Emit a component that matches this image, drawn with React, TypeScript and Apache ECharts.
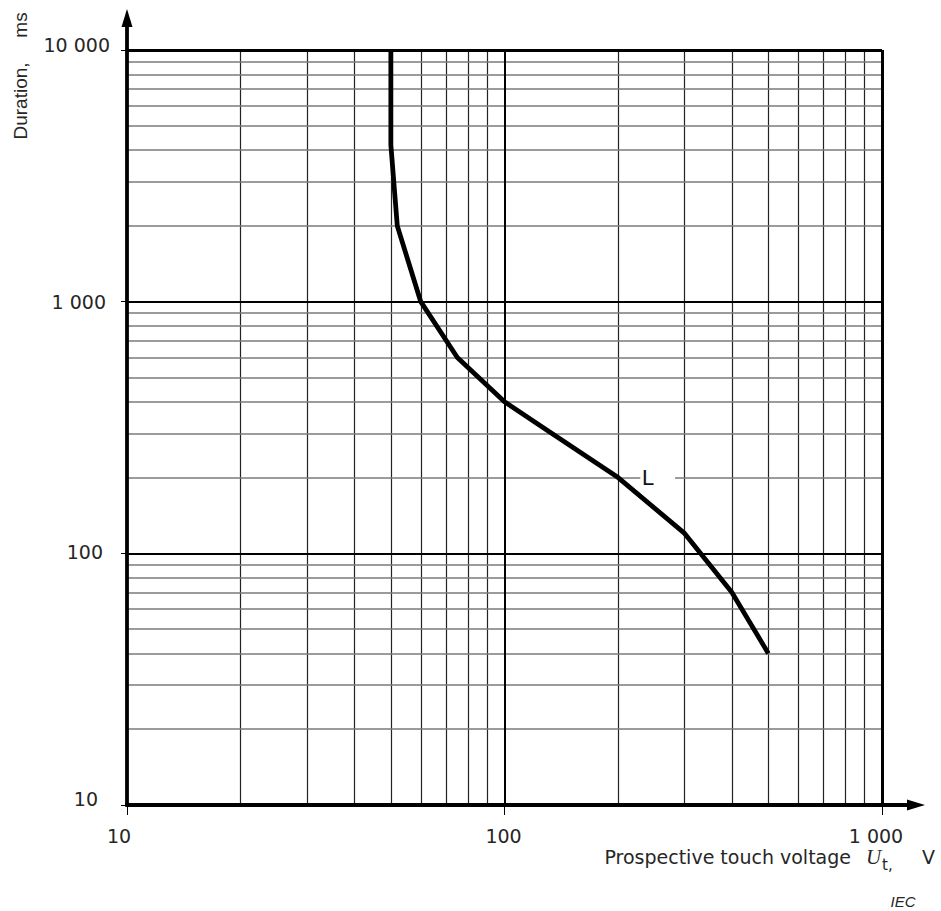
import React, { useEffect, useRef } from "react";
import * as echarts from "echarts";

// Axis ticks (log axes)
const xMin = 10;
const xMax = 1000;
const yMin = 10;
const yMax = 10000;
const xDecadeLines = [100];
const yDecadeLines = [100, 1000];
const xMinor = [20, 30, 40, 50, 60, 70, 80, 90, 200, 300, 400, 500, 600, 700, 800, 900];
const yMinor = [
  20, 30, 40, 50, 60, 70, 80, 90,
  200, 300, 400, 500, 600, 700, 800, 900,
  2000, 3000, 4000, 5000, 6000, 7000, 8000, 9000,
];

// Curve L: prospective touch voltage (V) vs duration (ms)
const voltage = [50, 50, 52, 60, 75, 100, 125, 200, 300, 400, 500];
const duration = [10000, 4200, 2000, 1000, 600, 400, 320, 200, 120, 70, 40];
const curveName = "L";
const labelAt = [240, 200];
const labelGap = [229, 283];

const fmt = (v: number) => String(v).replace(/\B(?=(\d{3})+(?!\d))/g, " ");

const FONT_NUM = "DejaVu Sans";
const FONT = "Liberation Sans";
const TXT = "#262626";

export default function App() {
  const ref = useRef<HTMLDivElement>(null);

  useEffect(() => {
    if (!ref.current) return;
    const chart = echarts.init(ref.current, undefined, { renderer: "svg" });

    const L = 127, T = 50, W = 755, H = 755;
    const B = T + H;

    const minorV = { color: "#222", width: 1.2, type: "solid" as const };
    const minorH = { color: "#7a7a7a", width: 1.6, type: "solid" as const };
    const major = { color: "#000", width: 2, type: "solid" as const };
    const border = { color: "#000", width: 3, type: "solid" as const };

    const gridLines: any[] = [];
    xMinor.forEach((v) => gridLines.push({ xAxis: v, lineStyle: minorV }));
    yMinor.forEach((v) => {
      if (v === labelAt[1]) {
        gridLines.push([
          { coord: [xMin, v], lineStyle: minorH },
          { coord: [labelGap[0], v], lineStyle: minorH },
        ]);
        gridLines.push([
          { coord: [labelGap[1], v], lineStyle: minorH },
          { coord: [xMax, v], lineStyle: minorH },
        ]);
      } else {
        gridLines.push({ yAxis: v, lineStyle: minorH });
      }
    });
    xDecadeLines.forEach((v) => gridLines.push({ xAxis: v, lineStyle: major }));
    yDecadeLines.forEach((v) => gridLines.push({ yAxis: v, lineStyle: major }));
    gridLines.push({ yAxis: yMax, lineStyle: border });
    gridLines.push({ xAxis: xMax, lineStyle: border });

    const numStyle = { fontSize: 19, fontFamily: FONT_NUM, color: TXT };

    const option: any = {
      animation: false,
      backgroundColor: "#fff",
      grid: { left: L, top: T, width: W, height: H, containLabel: false },
      xAxis: {
        type: "log",
        logBase: 10,
        min: xMin,
        max: xMax,
        axisLine: { show: false },
        axisTick: { show: true, length: 10, lineStyle: { color: "#000", width: 1 } },
        splitLine: { show: false },
        axisLabel: {
          margin: 21,
          ...numStyle,
          formatter: (v: number) =>
            v === xMin ? `{a|${fmt(v)}}` : v === xMax ? `{b|${fmt(v)}}` : `{c|${fmt(v)}}`,
          rich: {
            a: { ...numStyle, padding: [0, 16, 0, 0] },
            b: { ...numStyle, padding: [0, 12, 0, 0] },
            c: { ...numStyle, padding: [0, 2, 0, 0] },
          },
        },
      },
      yAxis: {
        type: "log",
        logBase: 10,
        min: yMin,
        max: yMax,
        axisLine: { show: false },
        axisTick: { show: true, length: 6, lineStyle: { color: "#000", width: 1 } },
        splitLine: { show: false },
        axisLabel: {
          margin: 17,
          ...numStyle,
          formatter: (v: number) =>
            v === yMax ? `{p|${fmt(v)}}` : v === 1000 ? `{q|${fmt(v)}}` : v === 100 ? `{r|${fmt(v)}}` : `{s|${fmt(v)}}`,
          rich: {
            p: { ...numStyle, padding: [0, 0, 10, 0] },
            q: { ...numStyle, padding: [0, 4, 0, 0] },
            r: { ...numStyle, padding: [0, 7, 3, 0] },
            s: { ...numStyle, padding: [0, 12, 12, 0] },
          },
        },
      },
      series: [
        {
          name: "grid",
          type: "line",
          data: [[xMin, yMin]],
          symbol: "none",
          lineStyle: { opacity: 0 },
          silent: true,
          z: 1,
          markLine: {
            silent: true,
            symbol: ["none", "none"],
            label: { show: false },
            animation: false,
            data: gridLines,
          },
        },
        {
          name: curveName,
          type: "line",
          data: voltage.map((u, i) => [u, duration[i]]),
          symbol: "none",
          showSymbol: false,
          lineStyle: { color: "#000", width: 4.8, join: "round" },
          z: 5,
          markPoint: {
            silent: true,
            animation: false,
            data: [
              {
                coord: labelAt,
                symbol: "circle",
                symbolSize: 1,
                itemStyle: { color: "rgba(0,0,0,0)" },
                label: {
                  show: true,
                  formatter: curveName,
                  position: "inside",
                  fontSize: 22,
                  fontFamily: FONT,
                  color: "#111",
                },
              },
            ],
          },
        },
      ],
      graphic: [
        { type: "line", z: 10, shape: { x1: L, y1: B + 1.5, x2: L, y2: 24 }, style: { stroke: "#000", lineWidth: 3.8 } },
        { type: "polygon", z: 10, shape: { points: [[L, 9], [L - 5.5, 27], [L + 5.5, 27]] }, style: { fill: "#000" } },
        { type: "line", z: 10, shape: { x1: L - 1.5, y1: B, x2: 910, y2: B }, style: { stroke: "#000", lineWidth: 3.8 } },
        { type: "polygon", z: 10, shape: { points: [[925, B], [907, B - 5.5], [907, B + 5.5]] }, style: { fill: "#000" } },
        {
          type: "text", z: 10, x: 851, y: 857,
          style: { text: "Prospective touch voltage", fontSize: 19, fontFamily: FONT_NUM, fill: TXT, align: "right", verticalAlign: "middle" },
        },
        {
          type: "text", z: 10, x: 866, y: 857,
          style: { text: "U", fontSize: 21, fontStyle: "italic", fontFamily: "Liberation Serif", fill: TXT, align: "left", verticalAlign: "middle" },
        },
        {
          type: "text", z: 10, x: 882, y: 865,
          style: { text: "t,", fontSize: 15, fontFamily: FONT_NUM, fill: TXT, align: "left", verticalAlign: "middle" },
        },
        {
          type: "text", z: 10, x: 922, y: 857,
          style: { text: "V", fontSize: 19, fontFamily: FONT_NUM, fill: TXT, align: "left", verticalAlign: "middle" },
        },
        {
          type: "text", z: 10, x: 903, y: 901,
          style: { text: "IEC", fontSize: 15, fontStyle: "italic", fontFamily: FONT, fill: TXT, align: "center", verticalAlign: "middle" },
        },
        {
          type: "text", z: 10, x: 20, y: 101, rotation: Math.PI / 2,
          style: { text: "Duration,", fontSize: 19, fontFamily: FONT, fill: TXT, align: "center", verticalAlign: "middle" },
        },
        {
          type: "text", z: 10, x: 20, y: 25, rotation: Math.PI / 2,
          style: { text: "ms", fontSize: 19, fontFamily: FONT, fill: TXT, align: "center", verticalAlign: "middle" },
        },
      ],
    };

    chart.setOption(option);
    return () => chart.dispose();
  }, []);

  return (
    <div
      ref={ref}
      style={{ position: "fixed", left: 0, top: 0, width: 941, height: 911, background: "#fff" }}
    />
  );
}
